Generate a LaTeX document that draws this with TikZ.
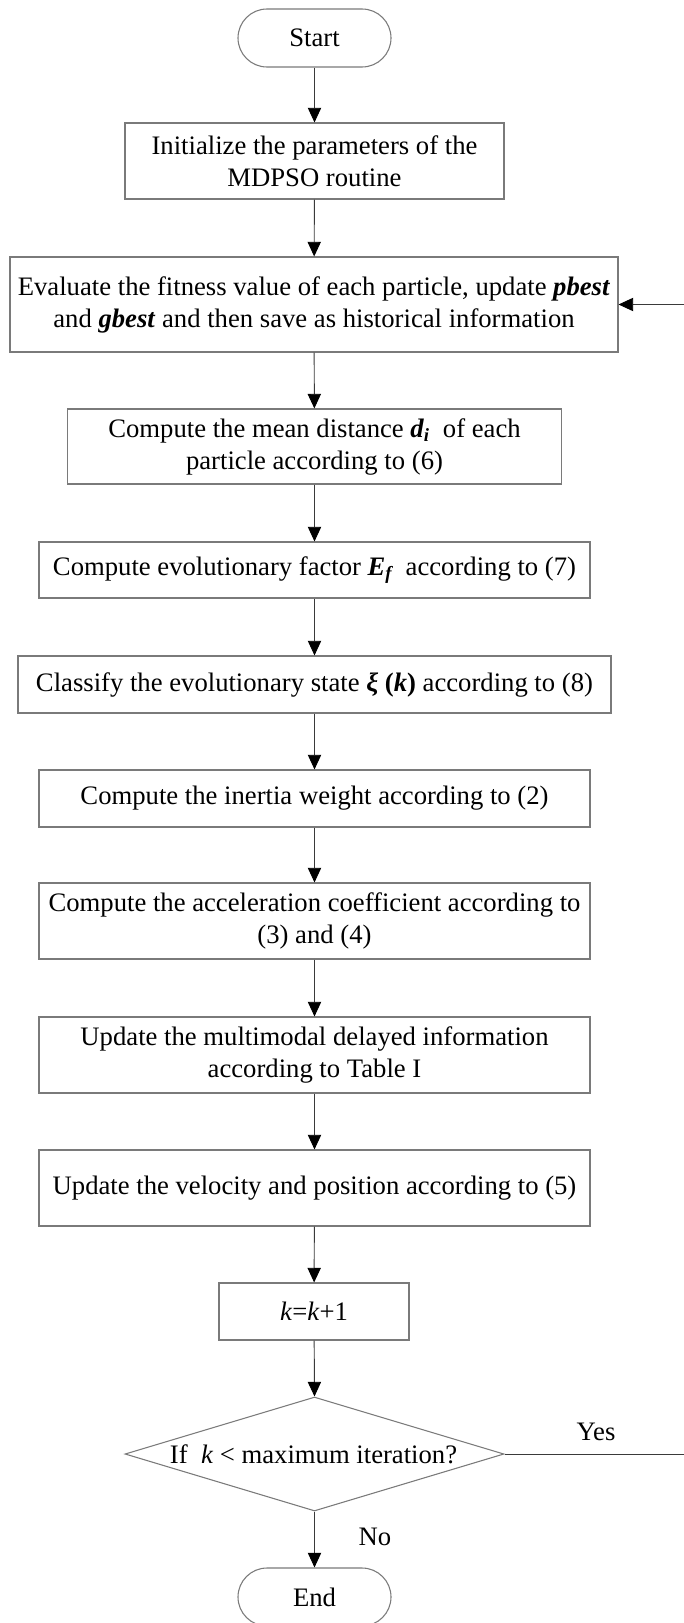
\documentclass[tikz,border=0pt]{standalone}
\usepackage{fontspec}
\setmainfont{Liberation Serif}
\usetikzlibrary{arrows.meta,shapes.geometric}
\definecolor{boxgray}{HTML}{7A7A7A}
\definecolor{linegray}{HTML}{3A3A3A}
\begin{document}
\begin{tikzpicture}[x=0.75pt,y=-0.75pt,
  txt/.style={font=\fontsize{20}{24}\selectfont},
  box/.style={txt, draw=boxgray, line width=0.8pt, align=center, inner sep=0pt},
  term/.style={box, rounded corners=21.75pt, minimum width=114.75pt, minimum height=43.5pt},
  conn/.style={draw=linegray, line width=0.7pt, -{Triangle[length=11pt,width=10pt,color=black]}},
  lbl/.style={txt, inner sep=0pt}
]
\useasboundingbox (0,0) rectangle (683,1623);

\node[term] (start) at (314.5,38) {Start};
\node[box, minimum width=284.25pt, minimum height=57pt] (init) at (314.5,161)
  {Initialize the parameters of the\\MDPSO routine};
\node[box, minimum width=456pt, minimum height=71.25pt] (eval) at (314,304.5)
  {Evaluate the fitness value of each particle, update \textbf{\textit{pbest}}\\and \textbf{\textit{gbest}} and then save as historical information};
\node[box, minimum width=370.5pt, minimum height=56.25pt] (mean) at (314.5,446.5)
  {Compute the mean distance \textbf{\textit{d\textsubscript{i}}}~ of each\\particle according to (6)};
\node[box, minimum width=413.25pt, minimum height=42pt] (ef) at (314.5,570)
  {Compute evolutionary factor \textbf{\textit{E\textsubscript{f}}}~ according to (7)};
\node[box, minimum width=444.75pt, minimum height=42.75pt] (cls) at (314.5,684.5)
  {Classify the evolutionary state \textbf{\textit{ξ}}~\textbf{(\textit{k})} according to (8)};
\node[box, minimum width=413.25pt, minimum height=42.75pt] (inertia) at (314.5,798.5)
  {Compute the inertia weight according to (2)};
\node[box, minimum width=413.25pt, minimum height=57pt] (accel) at (314.5,921)
  {Compute the acceleration coefficient according to\\(3) and (4)};
\node[box, minimum width=413.25pt, minimum height=57pt] (multi) at (314.5,1055)
  {Update the multimodal delayed information\\according to Table I};
\node[box, minimum width=413.25pt, minimum height=57pt] (vel) at (314.5,1188)
  {Update the velocity and position according to (5)};
\node[box, minimum width=142.5pt, minimum height=42.75pt] (kk) at (314,1311.5)
  {\textit{k}=\textit{k}+1};
\node[draw=boxgray, line width=0.8pt, diamond, minimum width=284.25pt, minimum height=85.5pt, inner sep=0pt] (dia) at (314.5,1454) {};
\node[lbl] (diat) at (313.5,1454) {If~ \textit{k} < maximum iteration?};
\node[term] (end) at (314.5,1597) {End};

\node[lbl] (yes) at (596,1432) {Yes};
\node[lbl] (no) at (375,1537) {No};

\coordinate (r1) at (690,1454);
\coordinate (r2) at (690,304.5);

\draw[conn] (start) -- (init);
\draw[conn] (init) -- (eval);
\draw[conn] (eval) -- (mean);
\draw[conn] (mean) -- (ef);
\draw[conn] (ef) -- (cls);
\draw[conn] (cls) -- (inertia);
\draw[conn] (inertia) -- (accel);
\draw[conn] (accel) -- (multi);
\draw[conn] (multi) -- (vel);
\draw[conn] (vel) -- (kk);
\draw[conn] (kk) -- (dia.north);
\draw[conn] (dia.south) -- (end);
\draw[conn] (dia.east) -- (r1) -- (r2) -- (eval.east);
\end{tikzpicture}
\end{document}
